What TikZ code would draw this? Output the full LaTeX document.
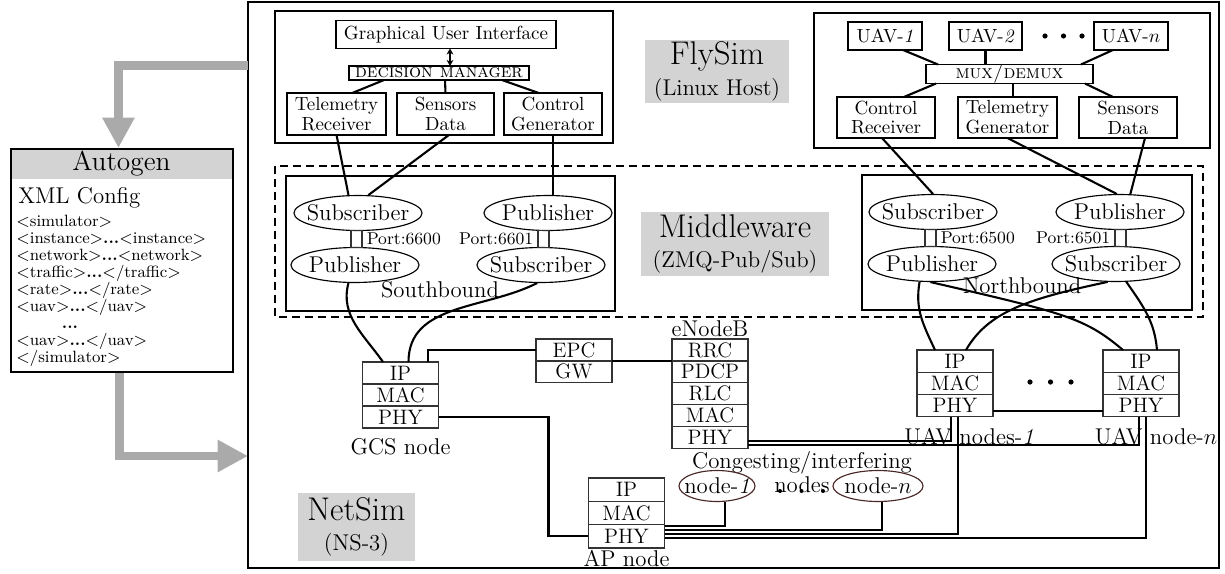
\RequirePackage{fix-cm}
\documentclass[tikz,border=0pt]{standalone}
\usepackage{tikz}
\usetikzlibrary{calc,positioning,shapes.geometric,arrows.meta}

\definecolor{lblgray}{RGB}{211,211,211}
\definecolor{arrgray}{RGB}{170,170,170}
\definecolor{congedge}{RGB}{75,40,40}

\tikzset{
	box/.style={draw, line width=0.7pt, inner sep=1pt, outer sep=0pt, align=center},
	twoline/.style={box, font=\fontsize{10pt}{10.5pt}\selectfont},
	layer/.style={draw=black!80, line width=0.7pt, minimum width=40pt, minimum height=11.6pt, inner sep=0pt, outer sep=0pt, font=\fontsize{11pt}{12pt}\selectfont},
	pubsub/.style={draw, ellipse, line width=0.6pt, minimum width=67.4pt, minimum height=18.4pt, inner xsep=-4pt, inner ysep=1pt, font=\large},
	congnode/.style={draw=congedge, ellipse, line width=0.6pt, minimum height=16.3pt, inner xsep=-5pt, inner ysep=1pt, font=\large},
	portbox/.style={draw=black!80, line width=0.6pt, minimum width=5.8pt, minimum height=9pt, inner sep=0pt},
	portlbl/.style={font=\small, inner sep=1pt},
	nodelbl/.style={font=\large, inner sep=1pt},
	graylbl/.style={fill=lblgray, align=center, inner sep=0pt, font=\large},
	wire/.style={line width=1.1pt},
	bigarrow/.style={line width=4.7pt, draw=arrgray, -{Triangle[length=16pt, width=16pt]}},
}

\begin{document}
\begin{tikzpicture}[x=0.0185cm, y=0.0185cm]
	%%%%% START %%%%%
	\useasboundingbox (0,0) rectangle (1225,-573);
	
	\draw[line width=1pt] (248,-2) rectangle (1219,-568);
	
	% FlySim, GCS side
	\draw[line width=0.9pt] (275,-11) rectangle (613,-143);
	\node[box, minimum width=115.8pt, minimum height=14.7pt] (gui) at (446,-34.5) {Graphical User Interface};
	\node[box, minimum width=94.8pt, minimum height=7.4pt, inner sep=0pt] (dm) at (439,-73) {\textsc{decision manager}};
	\node[twoline, minimum width=52pt, minimum height=22pt] (telrx) at (336.5,-114) {Telemetry\\Receiver};
	\node[twoline, minimum width=51pt, minimum height=22pt] (sensgcs) at (445.5,-114) {Sensors\\Data};
	\node[twoline, minimum width=51.6pt, minimum height=22pt] (ctrlgen) at (553,-114) {Control\\Generator};
	
	\draw[line width=0.6pt, {Stealth[length=3.2pt,width=3.6pt]}-{Stealth[length=3.2pt,width=3.6pt]}] ($(gui.south)+(4,0)$) -- ($(dm.north)+(11,0)$);
	\draw[wire] ($(dm.south)+(-55,0)$) -- ($(telrx.north)+(15.5,0)$);
	\draw[wire] ($(dm.south)+(6,0)$) -- (sensgcs.north);
	\draw[wire] ($(dm.south)+(63,0)$) -- ($(ctrlgen.north)+(-14,0)$);
	
	% FlySim, UAV side
	\draw[line width=0.9pt] (814,-13) rectangle (1210,-148);
	\node[box, minimum width=39pt, minimum height=14.7pt] (uav1) at (885,-36) {UAV-\textit{1}};
	\node[box, minimum width=38.5pt, minimum height=14.7pt] (uav2) at (985.5,-36) {UAV-\textit{2}};
	\node[box, minimum width=39pt, minimum height=14.7pt] (uavn) at (1131,-36) {UAV-$n$};
	\fill (1045,-36) circle (2.6);
	\fill (1063.5,-36) circle (2.6);
	\fill (1082,-36) circle (2.6);
	\node[box, minimum width=88pt, minimum height=7.4pt, inner sep=0pt] (mux) at (1009.5,-74) {\textsc{mux/demux}};
	\node[twoline, minimum width=51.6pt, minimum height=21.6pt] (ctrlrx) at (886,-117.5) {Control\\Receiver};
	\node[twoline, minimum width=52pt, minimum height=21.6pt] (telgen) at (1007.5,-117.5) {Telemetry\\Generator};
	\node[twoline, minimum width=51.6pt, minimum height=21.6pt] (sensuav) at (1128,-117.5) {Sensors\\Data};
	
	\draw[wire] ($(uav1.south)+(18,0)$) -- ($(mux.north)+(-71.5,0)$);
	\draw[wire] (uav2.south) -- (uav2.south |- mux.north);
	\draw[wire] ($(uavn.south)+(-18,0)$) -- ($(mux.north)+(71.5,0)$);
	\draw[wire] ($(mux.south)+(-73.5,0)$) -- ($(ctrlrx.north)+(18,0)$);
	\draw[wire] ($(mux.south)+(3.5,0)$) -- ($(telgen.north)+(5.5,0)$);
	\draw[wire] ($(mux.south)+(75.5,0)$) -- ($(sensuav.north)+(-15,0)$);
	
	% layer titles
	\node[graylbl, minimum width=76pt, minimum height=33pt] (flysim) at (717,-71.5) {{\LARGE FlySim}\\[2pt](Linux Host)};
	\node[graylbl, minimum width=99pt, minimum height=33.7pt] (mware) at (735,-244) {{\LARGE Middleware}\\[2pt](ZMQ-Pub/Sub)};
	\node[graylbl, minimum width=61.6pt, minimum height=35.8pt] (netsim) at (356.5,-527) {{\LARGE NetSim}\\[2pt](NS-3)};
	
	% Middleware
	\draw[line width=1pt, dash pattern=on 4.2pt off 2.6pt] (275,-166) rectangle (1203,-317);
	\draw[line width=0.9pt] (286,-176) rectangle (615,-311);
	\draw[line width=0.9pt] (862,-175) rectangle (1192,-310);
	
	\node[pubsub] (sbsub) at (358,-213) {Subscriber};
	\node[pubsub] (sbpub) at (548,-213) {Publisher};
	\node[pubsub] (sbpub2) at (355,-265) {Publisher};
	\node[pubsub] (sbsub2) at (541,-265) {Subscriber};
	\node[portbox] (sbport1) at (356.5,-239) {};
	\node[portbox] (sbport2) at (543.5,-239) {};
	\node[portlbl, right=1pt of sbport1] (sbportlbl1) {Port:6600};
	\node[portlbl, left=1pt of sbport2] (sbportlbl2) {Port:6601};
	\node[nodelbl] (south) at (440,-290) {Southbound};
	
	\node[pubsub] (nbsub) at (933,-212) {Subscriber};
	\node[pubsub] (nbpub) at (1120,-212) {Publisher};
	\node[pubsub] (nbpub2) at (932,-264) {Publisher};
	\node[pubsub] (nbsub2) at (1116,-264) {Subscriber};
	\node[portbox] (nbport1) at (930.5,-238) {};
	\node[portbox] (nbport2) at (1120.5,-238) {};
	\node[portlbl, right=1pt of nbport1] (nbportlbl1) {Port:6500};
	\node[portlbl, left=1pt of nbport2] (nbportlbl2) {Port:6501};
	\node[nodelbl] (north) at (1022,-286) {Northbound};
	
	\draw[wire] (telrx.south) -- (sbsub.118);
	\draw[wire] ($(sensgcs.south)+(3.5,0)$) -- (sbsub.60);
	\draw[wire] (ctrlgen.south) -- (ctrlgen.south |- sbpub.north);
	\draw[wire] ($(ctrlrx.south)+(-4,0)$) -- (nbsub.north);
	\draw[wire] (telgen.south) -- (nbpub.100);
	\draw[wire] ($(sensuav.south)+(17,0)$) -- (nbpub.60);
	
	% NetSim
	\node[layer, anchor=north] (gcsip) at (400.5,-362) {IP};
	\node[layer, below=0pt of gcsip] (gcsmac) {MAC};
	\node[layer, below=0pt of gcsmac] (gcsphy) {PHY};
	\node[nodelbl, below=4pt of gcsphy] (gcslbl) {GCS node};
	
	\node[layer, minimum height=11.5pt, anchor=north] (epc) at (574,-339) {EPC};
	\node[layer, minimum height=11.5pt, below=0pt of epc] (gw) {GW};
	
	\node[layer, minimum height=11.5pt, anchor=north] (enbrrc) at (710,-339) {RRC};
	\node[layer, minimum height=11.5pt, below=0pt of enbrrc] (enbpdcp) {PDCP};
	\node[layer, minimum height=11.5pt, below=0pt of enbpdcp] (enbrlc) {RLC};
	\node[layer, minimum height=11.5pt, below=0pt of enbrlc] (enbmac) {MAC};
	\node[layer, minimum height=11.5pt, below=0pt of enbmac] (enbphy) {PHY};
	\node[nodelbl, above=0pt of enbrrc] (enblbl) {eNodeB};
	
	\node[layer, minimum height=12.3pt, anchor=north] (apip) at (626.5,-478) {IP};
	\node[layer, minimum height=12.3pt, below=0pt of apip] (apmac) {MAC};
	\node[layer, minimum height=12.3pt, below=0pt of apmac] (apphy) {PHY};
	\node[nodelbl, below=0pt of apphy] (aplbl) {AP node};
	
	\node[layer, minimum height=11.7pt, anchor=north] (uav1ip) at (955,-350) {IP};
	\node[layer, minimum height=11.7pt, below=0pt of uav1ip] (uav1mac) {MAC};
	\node[layer, minimum height=11.7pt, below=0pt of uav1mac] (uav1phy) {PHY};
	\node[layer, minimum height=11.7pt, anchor=north] (uavnip) at (1141,-350) {IP};
	\node[layer, minimum height=11.7pt, below=0pt of uavnip] (uavnmac) {MAC};
	\node[layer, minimum height=11.7pt, below=0pt of uavnmac] (uavnphy) {PHY};
	\fill (1030,-382) circle (2.6);
	\fill (1050.5,-382) circle (2.6);
	\fill (1071,-382) circle (2.6);
	\node[nodelbl] (uav1lbl) at (969,-437) {UAV nodes-\textit{1}};
	\node[nodelbl] (uavnlbl) at (1156,-437) {UAV node-$n$};
	
	\node[nodelbl, align=center, font=\fontsize{12pt}{10pt}\selectfont] (cong) at (802,-472) {Congesting/interfering\\nodes};
	\node[congnode, minimum width=40pt] (node1) at (717,-486) {node-\textit{1}};
	\node[congnode, minimum width=47.4pt] (noden) at (878,-486) {node-$n$};
	\fill (780,-491) circle (2);
	\fill (801.5,-491) circle (2);
	\fill (823,-491) circle (2);
	
	\draw[wire] (sbpub2.250) to[out=-105, in=125] ($(gcsip.north)+(-17.5,0)$);
	\draw[wire] (sbsub2.258) to[out=-153, in=90] ($(gcsip.north)+(8,0)$);
	\draw[wire] (nbpub2.235) .. controls +(-100:28) and +(115:28) .. ($(uav1ip.north)+(-20,0)$);
	\draw[wire] (nbpub2.265) .. controls +(-13:140) and +(140:50) .. ($(uavnip.north)+(-18,0)$);
	\draw[wire] (nbsub2.245) .. controls +(-168:80) and +(60:45) .. ($(uav1ip.north)+(11,0)$);
	\draw[wire] (nbsub2.300) .. controls +(-55:32) and +(95:28) .. ($(uavnip.north)+(16,0)$);
	
	\draw[wire] ($(gcsip.north)+(27.5,0)$) |- (epc.west);
	\draw[wire] (epc.south east) -- (epc.south east -| enbrrc.west);
	\draw[wire] (gcsphy.east) -- ++(110,0) |- (apphy.west);
	\draw[wire] ($(uav1phy.east)+(0,-5)$) -- ($(uavnphy.west)+(0,-5)$);
	
	\draw[wire] ($(enbphy.east)+(0,-3.5)$) -| ($(uav1phy.south)+(-4,0)$);
	\draw[wire] ($(enbphy.east)+(0,-8)$) -| ($(uavnphy.south)+(-2,0)$);
	\draw[wire] ($(apphy.east)+(0,10)$) -| ($(node1.south)+(8,0)$);
	\draw[wire] ($(apphy.east)+(0,6)$) -| ($(noden.south)+(4,0)$);
	\draw[wire] ($(apphy.east)+(0,2)$) -| ($(uav1phy.south)+(3,0)$);
	\draw[wire] ($(apphy.east)+(0,-2)$) -| ($(uavnphy.south)+(5,0)$);
	
	% Autogen
	\node[fill=lblgray, minimum width=116.9pt, minimum height=16.3pt, anchor=north west, inner sep=0pt, font=\Large] (autotitle) at (10,-148) {Autogen};
	\node[draw, line width=1pt, minimum width=116.9pt, minimum height=117.4pt, anchor=north west, inner sep=0pt] (autogen) at (10,-148) {};
	\node[anchor=west, font=\large, inner sep=0pt] (xmlhead) at (18,-198) {XML Config};
	\node[anchor=north west, align=left, inner sep=0pt, font=\fontsize{8.6pt}{8.9pt}\selectfont] (xmlbody) at (16,-215) {%
		$<$simulator$>$\\
		$<$instance$>$\textbf{...}$<$instance$>$\\
		$<$network$>$\textbf{...}$<$network$>$\\
		$<$traffic$>$\textbf{...}$<$/traffic$>$\\
		$<$rate$>$\textbf{...}$<$/rate$>$\\
		$<$uav$>$\textbf{...}$<$/uav$>$\\
		\hspace*{24pt}\textbf{...}\\
		$<$uav$>$\textbf{...}$<$/uav$>$\\
		$<$/simulator$>$};
	
	\coordinate (flyout) at (248,-65.5);
	\coordinate (netin) at (248,-456);
	\draw[bigarrow] (flyout) -| ($(autotitle.north)+(-3,0)$);
	\draw[bigarrow] ($(autogen.south)+(-3,0)$) |- (netin);
	
	%%%%% END %%%%%
\end{tikzpicture}
\end{document}
